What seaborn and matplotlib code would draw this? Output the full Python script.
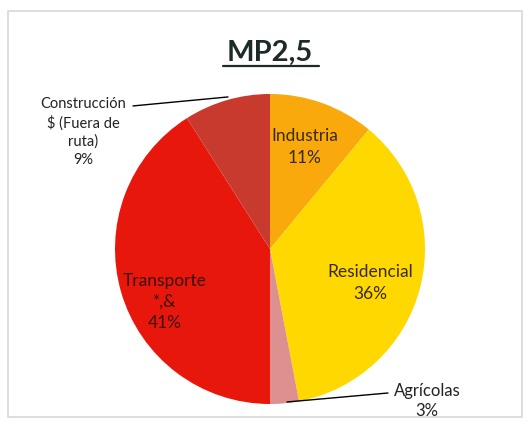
# MP2,5 - pie chart of emission sources
import matplotlib
matplotlib.use("Agg")
import matplotlib.pyplot as plt
import seaborn as sns
from matplotlib.patches import Rectangle
from matplotlib.lines import Line2D

# data
fuentes = ["Industria", "Residencial", "Agrícolas", "Transporte\n*,&", "Construcción\n$ (Fuera de\nruta)"]
porcentajes = [11, 36, 3, 41, 9]
colores = ["#F9A90C", "#FFD800", "#DE9090", "#E8170B", "#C93A2E"]

sns.set_theme(style="white")
plt.rcParams["font.family"] = ["Lato", "DejaVu Sans"]

fig = plt.figure(figsize=(5.24, 4.27), dpi=100)
fig.patch.set_facecolor("white")

# marco gris claro
fig.add_artist(Rectangle((8 / 524, 1 - 418 / 427), 514 / 524, 406 / 427,
                         transform=fig.transFigure, fill=False,
                         edgecolor="#D8D8D8", lw=1.2))

ax = fig.add_axes([115 / 524, 22 / 427, 310 / 524, 310 / 427])
ax.pie(porcentajes, colors=colores, startangle=90, counterclock=False,
       wedgeprops={"linewidth": 0})
ax.set_xlim(-1, 1)
ax.set_ylim(-1, 1)
ax.set_aspect("equal")
ax.axis("off")

# etiquetas dentro de la torta
txt = dict(ha="center", va="center", fontsize=12.5, linespacing=1.4)
ax.text(0.226, 0.665, f"{fuentes[0]}\n{porcentajes[0]}%", color="#3A2A10", **txt)
ax.text(0.645, -0.213, f"{fuentes[1]}\n{porcentajes[1]}%", color="#3A2A10", **txt)
ax.text(-0.677, -0.335, f"{fuentes[3]}\n{porcentajes[3]}%", color="#3A1010", **txt)

# etiquetas fuera con linea guia
ax.text(-1.206, 0.761, f"{fuentes[4]}\n{porcentajes[4]}%", color="#222222",
        ha="center", va="center", fontsize=10.5, linespacing=1.35, clip_on=False)
ax.plot([-0.884, -0.271], [0.923, 0.981], color="black", lw=1, clip_on=False)
ax.text(1.013, -0.974, f"{fuentes[2]}\n{porcentajes[2]}%", color="#222222",
        ha="center", va="center", fontsize=12, linespacing=1.25, clip_on=False)
ax.plot([0.11, 0.761], [-0.987, -0.929], color="black", lw=1, clip_on=False)

# titulo subrayado
fig.text(270 / 524, 1 - 53 / 427, "MP2,5", ha="center", va="center",
         fontsize=21, fontweight="bold", color="#1E2A2A")
fig.add_artist(Line2D([223 / 524, 319 / 524], [1 - 67 / 427, 1 - 67 / 427],
                      transform=fig.transFigure, color="#1E2A2A", lw=1.6))

fig.savefig("out.png", dpi=100)
